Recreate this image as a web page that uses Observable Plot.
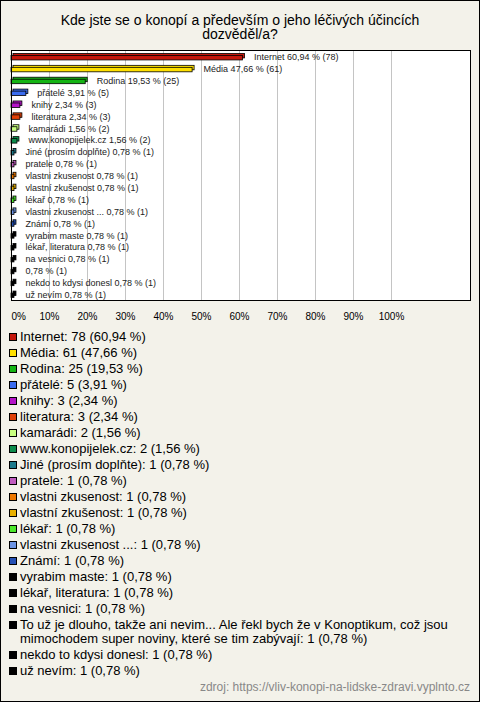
<!DOCTYPE html>
<html>
<head>
<meta charset="utf-8">
<script src="https://cdn.jsdelivr.net/npm/d3@7"></script>
<script src="https://cdn.jsdelivr.net/npm/@observablehq/plot@0.6"></script>
<style>
  html, body { margin: 0; padding: 0; }
  body { width: 480px; height: 702px; }
  #wrap {
    position: relative; box-sizing: border-box; width: 480px; height: 702px;
    border: 1px solid #000; background: #f3f2ea;
    font-family: Arial, "Liberation Sans", sans-serif; color: #000; overflow: hidden;
  }
  #title {
    box-sizing: border-box; height: 41px; padding: 12px 30px 0 30px;
    font-size: 14px; line-height: 14px; text-align: center;
  }
  #chart svg { display: block; background: transparent; font-family: Arial, "Liberation Sans", sans-serif; }
  #legend { margin-top: 2px; padding: 0 9px 0 8px; font-size: 13px; line-height: 14px; }
  .item { display: flex; align-items: flex-start; margin-bottom: 2px; }
  .sw { flex: none; width: 6px; height: 6px; border: 1px solid #000; margin: 3px 3px 0 0; }
  #source {
    position: absolute; right: 9px; top: 679px; font-size: 12px; line-height: 14px; color: #888;
  }
</style>
</head>
<body>
<div id="wrap">
  <div id="title">Kde jste se o konopí a především o jeho léčivých účincích dozvěděl/a?</div>
  <div id="chart"></div>
  <div id="legend"></div>
  <div id="source">zdroj: https://vliv-konopi-na-lidske-zdravi.vyplnto.cz</div>
</div>
<script>
const categories = [
  "Internet", "Média", "Rodina", "přátelé", "knihy", "literatura", "kamarádi",
  "www.konopijelek.cz", "Jiné (prosím doplňte)", "pratele", "vlastni zkusenost",
  "vlastní zkušenost", "lékař", "vlastni zkusenost ...", "Známí", "vyrabim maste",
  "lékař, literatura", "na vesnici",
  "To už je dlouho, takže ani nevim... Ale řekl bych že v Konoptikum, což jsou mimochodem super noviny, které se tim zabývají",
  "nekdo to kdysi donesl", "už nevím"
];
const counts = [78, 61, 25, 5, 3, 3, 2, 2, 1, 1, 1, 1, 1, 1, 1, 1, 1, 1, 1, 1, 1];
const percents = [60.94, 47.66, 19.53, 3.91, 2.34, 2.34, 1.56, 1.56, 0.78, 0.78, 0.78, 0.78, 0.78, 0.78, 0.78, 0.78, 0.78, 0.78, 0.78, 0.78, 0.78];
const colors = [
  "#c4170c", "#ffe000", "#14b414", "#3a6cf0", "#b414c8", "#e04008", "#c8ff80",
  "#0c8c4c", "#1c7a8c", "#c05cc0", "#ee7800", "#e8b000", "#4ce82c", "#6c94e4",
  "#2450b4", "#000000", "#000000", "#000000", "#000000", "#000000", "#000000"
];
const tickValues = [0, 10, 20, 30, 40, 50, 60, 70, 80, 90, 100];

const fmt = v => v.toFixed(2).replace(".", ",");
const chartName = c => c.length > 40 ? "" : c;
const data = categories.map((c, i) => ({cat: c, pct: percents[i], n: counts[i], color: colors[i]}));

const chart = Plot.plot({
  width: 478,
  height: 286,
  marginTop: 8,
  marginBottom: 28,
  marginLeft: 10,
  marginRight: 9,
  style: {background: "transparent", color: "#000", fontFamily: "Arial, 'Liberation Sans', sans-serif"},
  x: {domain: [0, 120.79], label: null},
  y: {type: "band", domain: categories, range: [9, 258.5], padding: 0, round: false, axis: null},
  color: {type: "identity"},
  marks: [
    Plot.frame({fill: "white", stroke: null}),
    Plot.ruleX(tickValues.slice(1), {stroke: "#c4c4c4"}),
    Plot.barX(data, {x: "pct", y: "cat", fill: d => d.color, stroke: "#000", strokeWidth: 0.8,
      insetTop: 4.45, insetBottom: 2.95, dx: 2, dy: -2}),
    Plot.barX(data, {x: "pct", y: "cat", fill: d => d.color, stroke: "#000", strokeWidth: 0.8,
      insetTop: 4.45, insetBottom: 2.95}),
    Plot.text(data, {x: "pct", y: "cat", dx: 11, textAnchor: "start", fontSize: 9, fill: "#222",
      text: d => (chartName(d.cat) ? chartName(d.cat) + " " : "") + fmt(d.pct) + " % (" + d.n + ")"}),
    Plot.frame({stroke: "#000"}),
    Plot.axisX([tickValues[0]], {tickSize: 0, tickPadding: 12, fontSize: 10, textAnchor: "start",
      tickFormat: d => d + "%", label: null}),
    Plot.axisX(tickValues.slice(1), {tickSize: 0, tickPadding: 12, fontSize: 10,
      tickFormat: d => d + "%", label: null})
  ]
});
document.getElementById("chart").appendChild(chart);

const legend = document.getElementById("legend");
data.forEach(d => {
  const item = document.createElement("div");
  item.className = "item";
  const sw = document.createElement("span");
  sw.className = "sw";
  sw.style.background = d.color;
  const tx = document.createElement("span");
  tx.textContent = d.cat + ": " + d.n + " (" + fmt(d.pct) + " %)";
  item.appendChild(sw);
  item.appendChild(tx);
  legend.appendChild(item);
});
</script>
</body>
</html>
